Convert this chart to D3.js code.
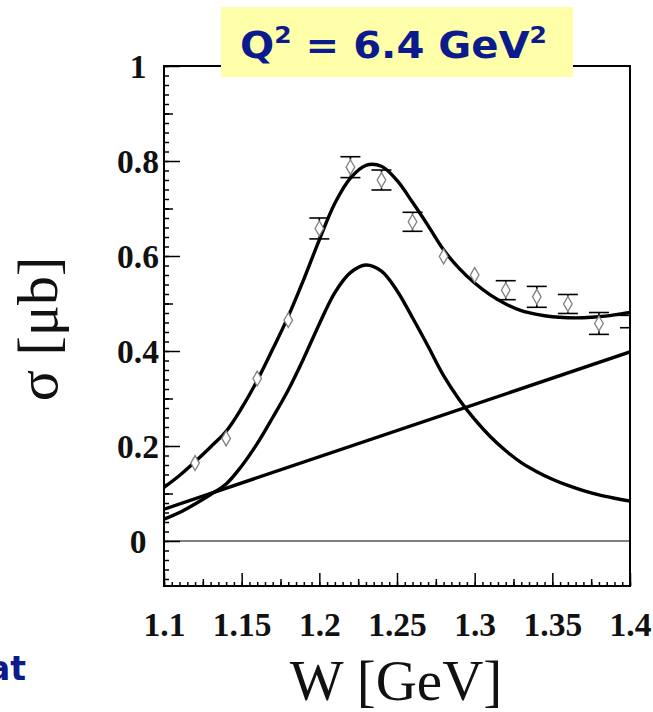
<!DOCTYPE html>
<html>
<head>
<meta charset="utf-8">
<script src="https://cdn.jsdelivr.net/npm/d3@7"></script>
<style>
  html, body { margin: 0; padding: 0; background: #fff; }
  svg { display: block; }
</style>
</head>
<body>
<svg id="chart" width="653" height="712"></svg>
<script>
// Measured cross section (W in GeV, sigma in microbarn)
const pointW     = [1.12, 1.14, 1.16, 1.18, 1.20, 1.22, 1.24, 1.26, 1.28, 1.30, 1.32, 1.34, 1.36, 1.38, 1.40];
const pointSigma = [0.164, 0.216, 0.342, 0.465, 0.658, 0.787, 0.760, 0.672, 0.599, 0.560, 0.528, 0.514, 0.499, 0.458, 0.462];
const pointError = [0, 0, 0, 0, 0.022, 0.022, 0.021, 0.020, 0, 0, 0.020, 0.022, 0.020, 0.023, 0.013];

// Fit curves sampled on a W grid
const fitW = [1.10, 1.11, 1.12, 1.13, 1.14, 1.15, 1.16, 1.17, 1.18, 1.19, 1.20,
              1.21, 1.22, 1.23, 1.24, 1.25, 1.26, 1.27, 1.28, 1.29, 1.30,
              1.31, 1.32, 1.33, 1.34, 1.35, 1.36, 1.37, 1.38, 1.39, 1.40];
const totalFit = [0.113, 0.138, 0.167, 0.198, 0.231, 0.280, 0.338, 0.404, 0.473, 0.551, 0.634,
                  0.711, 0.764, 0.791, 0.789, 0.759, 0.713, 0.664, 0.613, 0.574, 0.543,
                  0.518, 0.499, 0.485, 0.477, 0.472, 0.470, 0.470, 0.472, 0.476, 0.481];
const resonanceFit = [0.046, 0.060, 0.078, 0.098, 0.120, 0.158, 0.205, 0.260, 0.318, 0.385, 0.457,
                      0.523, 0.565, 0.581, 0.568, 0.527, 0.470, 0.410, 0.348, 0.298, 0.256,
                      0.220, 0.190, 0.165, 0.146, 0.130, 0.117, 0.106, 0.097, 0.090, 0.084];
const backgroundW   = [1.10, 1.40];
const backgroundFit = [0.067, 0.398];

// Axis ticks and labels
const xTickValues = [1.1, 1.15, 1.2, 1.25, 1.3, 1.35, 1.4];
const xTickLabels = ["1.1", "1.15", "1.2", "1.25", "1.3", "1.35", "1.4"];
const yTickValues = [0, 0.2, 0.4, 0.6, 0.8, 1];
const yTickLabels = ["0", "0.2", "0.4", "0.6", "0.8", "1"];

const svg = d3.select("#chart");
const frame = { left: 164, right: 630, top: 66, bottom: 586 };

const x = d3.scaleLinear().domain([1.1, 1.4]).range([frame.left, frame.right]);
const y = d3.scaleLinear().domain([0, 1]).range([541, 66]);
const yMin = y.invert(frame.bottom);

svg.append("defs").append("clipPath").attr("id", "plotClip")
  .append("rect")
  .attr("x", frame.left).attr("y", frame.top)
  .attr("width", frame.right - frame.left).attr("height", frame.bottom - frame.top);

// Tick helpers
function range(a, b, step) {
  const out = [];
  const n = Math.round((b - a) / step);
  for (let i = 0; i <= n; i++) out.push(+(a + i * step).toFixed(4));
  return out;
}
const xMinor = range(1.1, 1.4, 0.005);
const xMid = range(1.125, 1.375, 0.05);
const yMinor = range(-0.08, 1.0, 0.02);
const yMid = range(0.1, 0.9, 0.2);

const tickFont = "'Liberation Serif', 'Times New Roman', serif";

// Bottom axis: small, medium and major inward ticks
const gx = svg.append("g").attr("transform", `translate(0,${frame.bottom})`);
gx.append("g").call(d3.axisBottom(x).tickValues(xMinor).tickSize(-4).tickFormat(""));
gx.append("g").call(d3.axisBottom(x).tickValues(xMid).tickSize(-7).tickFormat(""));
gx.append("g").call(d3.axisBottom(x).tickValues(xTickValues).tickSize(-13).tickPadding(26)
  .tickFormat((d, i) => xTickLabels[i]));
gx.selectAll(".domain").remove();
gx.selectAll("line").attr("stroke", "#000").attr("stroke-width", 1.5);
gx.selectAll("text")
  .attr("font-family", tickFont).attr("font-weight", "bold").attr("font-size", 33.5)
  .attr("fill", "#111");

// Left axis: small, medium and major inward ticks
const gy = svg.append("g").attr("transform", `translate(${frame.left},0)`);
gy.append("g").call(d3.axisLeft(y).tickValues(yMinor.filter(v => v >= yMin)).tickSize(-5).tickFormat(""));
gy.append("g").call(d3.axisLeft(y).tickValues(yMid).tickSize(-9).tickFormat(""));
gy.append("g").call(d3.axisLeft(y).tickValues(yTickValues).tickSize(-16)
  .tickFormat((d, i) => yTickLabels[i]));
gy.selectAll(".domain").remove();
gy.selectAll("line").attr("stroke", "#000").attr("stroke-width", 1.5);
gy.selectAll("text")
  .attr("x", -26).attr("text-anchor", "middle").attr("dy", "0.34em")
  .attr("font-family", tickFont).attr("font-weight", "bold").attr("font-size", 33.5)
  .attr("fill", "#111");

// Zero line
svg.append("line")
  .attr("x1", frame.left).attr("x2", frame.right)
  .attr("y1", y(0)).attr("y2", y(0))
  .attr("stroke", "#000").attr("stroke-width", 1.2);

// Fit curves
const plot = svg.append("g").attr("clip-path", "url(#plotClip)");
const line = d3.line().x(d => x(d[0])).y(d => y(d[1])).curve(d3.curveCatmullRom.alpha(0.5));

const curves = [
  fitW.map((w, i) => [w, totalFit[i]]),
  fitW.map((w, i) => [w, resonanceFit[i]]),
  backgroundW.map((w, i) => [w, backgroundFit[i]])
];
plot.selectAll("path.fit").data(curves).join("path")
  .attr("class", "fit")
  .attr("d", line)
  .attr("fill", "none")
  .attr("stroke", "#000")
  .attr("stroke-width", 3.4);

// Data points with error bars
const points = pointW.map((w, i) => ({ w, s: pointSigma[i], e: pointError[i] }));
const markerHalf = 7.5;
const capHalf = 10;
const errG = plot.append("g").attr("stroke", "#000").attr("stroke-width", 1.6);
points.filter(p => p.e > 0).forEach(p => {
  const cx = x(p.w), cy = y(p.s);
  const yt = y(p.s + p.e), yb = y(p.s - p.e);
  errG.append("line").attr("x1", cx).attr("x2", cx).attr("y1", yt).attr("y2", cy - markerHalf);
  errG.append("line").attr("x1", cx).attr("x2", cx).attr("y1", cy + markerHalf).attr("y2", yb);
  errG.append("line").attr("x1", cx - capHalf).attr("x2", cx + capHalf).attr("y1", yt).attr("y2", yt);
  errG.append("line").attr("x1", cx - capHalf).attr("x2", cx + capHalf).attr("y1", yb).attr("y2", yb);
});

const diamond = d3.symbol(d3.symbolDiamond, 64);
plot.selectAll("path.pt").data(points.filter(p => p.w < 1.4)).join("path")
  .attr("class", "pt")
  .attr("d", diamond)
  .attr("transform", p => `translate(${x(p.w)},${y(p.s)})`)
  .attr("fill", "#fff")
  .attr("stroke", "#808080")
  .attr("stroke-width", 1.3);

// Frame
svg.append("rect")
  .attr("x", frame.left).attr("y", frame.top)
  .attr("width", frame.right - frame.left).attr("height", frame.bottom - frame.top)
  .attr("fill", "none").attr("stroke", "#000").attr("stroke-width", 2);

// Axis titles
svg.append("text")
  .attr("x", 396).attr("y", 700)
  .attr("text-anchor", "middle")
  .attr("font-family", tickFont).attr("font-size", 57).attr("fill", "#111")
  .text("W [GeV]");

svg.append("text")
  .attr("transform", "translate(57,329) rotate(-90)")
  .attr("text-anchor", "middle")
  .attr("font-family", tickFont).attr("font-size", 58).attr("fill", "#111")
  .text("σ [μb]");

// Title box
const titleFont = "'DejaVu Sans', 'Noto Sans', sans-serif";
svg.append("rect")
  .attr("x", 221).attr("y", 7).attr("width", 352).attr("height", 70)
  .attr("fill", "#ffffaa");
const title = svg.append("text")
  .attr("x", 240).attr("y", 58)
  .attr("font-family", titleFont).attr("font-weight", "bold").attr("font-size", 37)
  .attr("fill", "#0b1a8c")
  .attr("textLength", 307).attr("lengthAdjust", "spacingAndGlyphs");
title.append("tspan").text("Q");
title.append("tspan").attr("font-size", 23).attr("dy", -15).text("2");
title.append("tspan").attr("dy", 15).text(" = 6.4 GeV");
title.append("tspan").attr("font-size", 23).attr("dy", -15).text("2");

// Side text from the surrounding page
svg.append("text")
  .attr("x", 26).attr("y", 680).attr("text-anchor", "end")
  .attr("font-family", titleFont).attr("font-weight", "bold").attr("font-size", 33)
  .attr("fill", "#0b1a8c")
  .text("fit at");
svg.append("text")
  .attr("x", 140).attr("y", 730).attr("text-anchor", "end")
  .attr("font-family", titleFont).attr("font-weight", "bold").attr("font-size", 28)
  .attr("fill", "#0b1a8c")
  .text("resonances");
</script>
</body>
</html>
